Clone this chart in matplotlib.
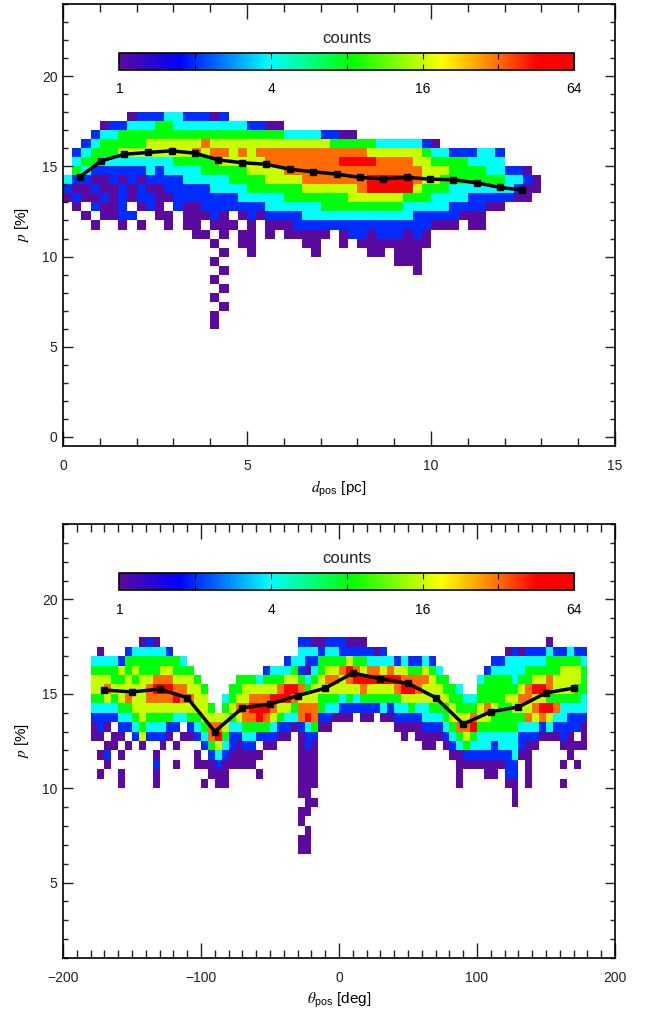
import numpy as np
import matplotlib
matplotlib.use("Agg")
import matplotlib.pyplot as plt
from matplotlib.colors import LinearSegmentedColormap, LogNorm
from matplotlib.ticker import MultipleLocator, NullLocator

plt.rcParams["font.family"] = ["Liberation Sans", "DejaVu Sans"]
plt.rcParams["mathtext.fontset"] = "stix"

# --- data ----------------------------------------------------------------
# 2D histogram cells: '.' = empty, digit k = 2**k counts
# top panel: rows from p=18.0 (top) down to p=6.0, columns 0.25 pc wide from 0
TOP_ROWS = [
    "",
    ".......01112211101",
    "....01122233222222221100",
    "...12233333333333333333322221100",
    "..123333344444454444444444444333332222210",
    ".12333444444445455454555555555555444444322111221",
    ".23322222222333334444455555555666655554433332222",
    ".32111111212222333334444555555555555555444333322110",
    "2110010101111222223333444455555556666654433333332210",
    "1001001010011111222233333344444456666643332222222100",
    "010010101100111111122222333333344444433322221111100.",
    ".0.1001.010.100111111122222233333333322222111100....",
    "..0.0011..00.00010.010111122222222222211111000......",
    "...0..0.0..0.00.000.0.000111111111111111000.00......",
    "..............00.0.00.0.00000.0110111010............",
    "................0..00.....00..0.00000000............",
    ".................0..0......0.....00.000.............",
    "................0...................000",
    ".................0....................0",
    "................0",
    ".................0",
    "................0",
    ".................0",
    "................0",
    "................0",
]

# bottom panel: columns 5 deg wide from -180, each from p=18.0 (top) down to 6.0
BOT_COLS = [
    "...234432100",            # -180
    "..0234432110.0.0",        # -175
    "...23454210.010",         # -170
    "...2334321.00",           # -165
    "...143443210.0.00",       # -160
    "..133445321.0",           # -155
    "..2343444321.",           # -150
    ".023344444340",           # -145
    ".12334554321.",           # -140
    ".02335654321.0100",       # -135
    "..23456543210",           # -130
    "..1345654310",            # -125
    "...33456421.0.0",         # -120
    "...2345542.0",            # -115
    "....34454310.",           # -110
    ".....3444321.00",         # -105
    "......3444321.0.0",       # -100
    "........34553100",        # -95
    ".........45642100",       # -90
    ".......2344321000",       # -85
    "......334321100",         # -80
    ".....3345421000",         # -75
    ".....3445532100",         # -70
    ".....3456532100",         # -65
    ".....2456631.0.0",        # -60
    "....134565310",           # -55
    "....234654210",           # -50
    "....23564310",            # -45
    "...124664210",            # -40
    "...23465320",             # -35
    ".12213545510000000.00.00",  # -30
    ".1210234562110000000.000",  # -25
    ".0212344553100000.0",     # -20
    ".0133443310",             # -15
    ".1234543210",             # -10
    ".123454320",              # -5
    ".113544210",              # 0
    ".014654310",              # 5
    ".01356421",               # 10
    ".013465310",              # 15
    "..12564310",              # 20
    "..0256431",               # 25
    "..12464320",              # 30
    "...2564310",              # 35
    "...14653210",             # 40
    "...245642100",            # 45
    "...13564310",             # 50
    "...135542100",            # 55
    "...2454422100",           # 60
    "...1344432100",           # 65
    "....23443210",            # 70
    ".....33433210",           # 75
    "......33443210",          # 80
    "......23345320000",       # 85
    ".......23454310",         # 90
    ".......23563210",         # 95
    ".....2334432210",         # 100
    "....133354322100",        # 105
    "...1233343321100",        # 110
    "...123333332210",         # 115
    "..022334333221110",       # 120
    "..12223443322211000",     # 125
    "..022345432110",          # 130
    "..123355452100000",       # 135
    "..12346454210",           # 140
    "..1234646510",            # 145
    ".02335536420",            # 150
    "..1334435210",            # 155
    "..13444322110.0.0",       # 160
    "..234443211000",          # 165
    "..134433211.0.0",         # 170
    "..12333221000",           # 175
]

# binned mean curves (black lines)
d_mean = [0.46, 1.03, 1.67, 2.30, 2.95, 3.59, 4.22, 4.87, 5.51, 6.17,
          6.80, 7.44, 8.07, 8.70, 9.34, 9.97, 10.61, 11.24, 11.88, 12.46]
p_mean_d = [14.42, 15.30, 15.67, 15.77, 15.86, 15.73, 15.36, 15.20, 15.12, 14.84,
            14.70, 14.57, 14.39, 14.31, 14.39, 14.29, 14.26, 14.09, 13.83, 13.69]
theta_mean = [-170, -150, -130, -110, -90, -70, -50, -30, -10,
              10, 30, 50, 70, 90, 110, 130, 150, 170]
p_mean_t = [15.2, 15.1, 15.25, 14.8, 13.0, 14.25, 14.45, 14.9, 15.3,
            16.1, 15.8, 15.55, 14.8, 13.4, 14.05, 14.3, 15.05, 15.3]

cbar_ticks = [1, 2, 4, 8, 16, 32, 64]
cbar_labels = ["1", "", "4", "", "16", "", "64"]


def decode(lines, n):
    grid = np.full((len(lines), n), np.nan)
    for i, line in enumerate(lines):
        for j, ch in enumerate(line.ljust(n, ".")[:n]):
            if ch != ".":
                grid[i, j] = 2.0 ** int(ch)
    return grid


# top grid: flip so row 0 is the lowest p bin
top_counts = np.ma.masked_invalid(decode(TOP_ROWS, 52)[::-1])
# bottom grid: columns -> transpose, then flip
bot_counts = np.ma.masked_invalid(decode(BOT_COLS, 25).T[::-1])

d_edges = np.arange(0, 13.01, 0.25)
t_edges = np.arange(-180, 180.1, 5)
p_edges = np.arange(6, 18.51, 0.5)

cmap = LinearSegmentedColormap.from_list("idl_rainbow", [
    (0.0, "#5a0a9e"), (0.13, "#0000ff"), (0.33, "#00ffff"), (0.51, "#00ff00"),
    (0.71, "#ffff00"), (0.82, "#ff8000"), (0.92, "#ff0000"), (1.0, "#ff0000")])
norm = LogNorm(vmin=1, vmax=64)

fig = plt.figure(figsize=(6.48, 10.23), dpi=100)
ax1 = fig.add_axes([63 / 648, 1 - 446 / 1023, 552 / 648, 442 / 1023])
ax2 = fig.add_axes([63 / 648, 1 - 958 / 1023, 552 / 648, 434 / 1023])


def style(ax, xminor):
    ax.xaxis.set_minor_locator(MultipleLocator(xminor))
    ax.yaxis.set_minor_locator(MultipleLocator(1))
    ax.tick_params(which="both", direction="in", top=True, right=True,
                   width=1, labelsize=10, colors="#222222")
    ax.tick_params(axis="x", which="major", length=11, pad=9)
    ax.tick_params(axis="x", which="minor", length=6)
    ax.tick_params(axis="y", which="major", length=7.5, pad=4)
    ax.tick_params(axis="y", which="minor", length=3.6)
    for s in ax.spines.values():
        s.set_linewidth(1.2)


def add_cbar(mesh, top_px):
    cax = fig.add_axes([119.5 / 648, 1 - (top_px + 17) / 1023, 454.5 / 648, 17 / 1023])
    cb = fig.colorbar(mesh, cax=cax, orientation="horizontal")
    cb.set_ticks(cbar_ticks)
    cb.set_ticklabels(cbar_labels)
    cax.xaxis.set_minor_locator(NullLocator())
    cax.tick_params(axis="x", direction="in", top=True, bottom=True,
                    length=4, width=0.8, labelsize=10, pad=9)
    cb.outline.set_linewidth(1.2)
    cax.set_title("counts", fontsize=12, pad=7, color="#222222")


# top panel
m1 = ax1.pcolormesh(d_edges, p_edges, top_counts, cmap=cmap, norm=norm, shading="flat")
ax1.plot(d_mean, p_mean_d, color="k", lw=2.5, marker="s", ms=4, zorder=5)
ax1.set_xlim(0, 15)
ax1.set_ylim(-0.5, 24)
ax1.set_xticks([0, 5, 10, 15])
ax1.set_yticks([0, 5, 10, 15, 20])
style(ax1, 1)
ax1.set_xlabel(r"$d_{\mathregular{pos}}$ [pc]", fontsize=11, labelpad=5)
ax1.set_ylabel(r"$p$ [%]", fontsize=11, labelpad=8)
add_cbar(m1, 53)

# bottom panel
m2 = ax2.pcolormesh(t_edges, p_edges, bot_counts, cmap=cmap, norm=norm, shading="flat")
ax2.plot(theta_mean, p_mean_t, color="k", lw=2.5, marker="s", ms=4, zorder=5)
ax2.set_xlim(-200, 200)
ax2.set_ylim(1, 24)
ax2.set_xticks([-200, -100, 0, 100, 200])
ax2.set_yticks([5, 10, 15, 20])
style(ax2, 10)
ax2.set_xlabel(r"$\theta_{\mathregular{pos}}$ [deg]", fontsize=11, labelpad=5)
ax2.set_ylabel(r"$p$ [%]", fontsize=11, labelpad=8)
add_cbar(m2, 573)

fig.savefig("out.png", dpi=100)
